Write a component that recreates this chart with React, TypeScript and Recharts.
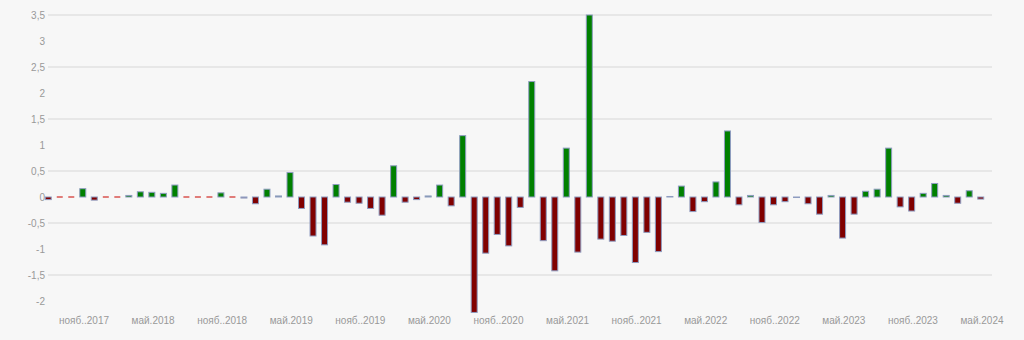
import { Bar, BarChart, CartesianGrid, XAxis, YAxis } from "recharts";

// monthly values, Aug 2017 .. May 2024
const START_MONTH = "авг.2017";
const VALUES = [
  -0.05, 0, 0, 0.16, -0.06, 0, 0, 0.03, 0.1, 0.09, 0.07, 0.23,
  0, 0, 0, 0.08, 0, -0.02, -0.13, 0.15, 0.02, 0.47, -0.22, -0.75,
  -0.92, 0.24, -0.1, -0.12, -0.22, -0.35, 0.6, -0.1, -0.05, 0.02, 0.23, -0.17,
  1.18, -2.22, -1.08, -0.72, -0.94, -0.2, 2.22, -0.84, -1.42, 0.94, -1.06, 3.5,
  -0.81, -0.85, -0.74, -1.26, -0.68, -1.05, 0.01, 0.21, -0.28, -0.09, 0.29, 1.27,
  -0.15, 0.03, -0.49, -0.15, -0.09, -0.01, -0.13, -0.33, 0.03, -0.79, -0.33, 0.11,
  0.15, 0.94, -0.19, -0.27, 0.07, 0.26, 0.03, -0.12, 0.12, -0.04,
];

// month index (from START_MONTH) and label for the x ticks
const TICK_MONTHS = [3, 9, 15, 21, 27, 33, 39, 45, 51, 57, 63, 69, 75, 81];
const TICK_LABELS = [
  "нояб..2017", "май.2018", "нояб..2018", "май.2019", "нояб..2019", "май.2020", "нояб..2020",
  "май.2021", "нояб..2021", "май.2022", "нояб..2022", "май.2023", "нояб..2023", "май.2024",
];
const Y_TICKS = [-2, -1.5, -1, -0.5, 0, 0.5, 1, 1.5, 2, 2.5, 3, 3.5];
const GRID_VALUES = [-1.5, -0.5, 0.5, 1.5, 2.5, 3.5];

const data = VALUES.map((v, i) => ({ m: i, v }));
const tickLabel = (m: number) => TICK_LABELS[TICK_MONTHS.indexOf(m)] ?? "";
const fmt = (v: number) => String(v).replace(".", ",");

function BarShape(props: any) {
  const { x, y, width, height, value } = props;
  const v = Array.isArray(value) ? value[1] : value;
  if (!v) {
    return <line x1={x} x2={x + width} y1={y} y2={y} stroke="#d9534f" strokeWidth={1.5} />;
  }
  const top = height < 0 ? y + height : y;
  return (
    <rect x={x} y={top} width={width} height={Math.abs(height)}
      fill={v > 0 ? "#008000" : "#800000"} stroke="#8e9cc0" strokeWidth={1} />
  );
}

export default function App() {
  return (
    <div style={{ position: "absolute", left: 0, top: 0, width: 1024, height: 340, background: "#f7f7f7" }}>
      <BarChart width={1024} height={340} data={data} margin={{ top: 15, right: 32, bottom: 0, left: 0 }}
        style={{ fontFamily: "'Liberation Sans', Arial, sans-serif" }}>
        <CartesianGrid vertical={false} horizontalValues={GRID_VALUES} stroke="#e2e2e2" strokeWidth={1.5} />
        <XAxis dataKey="m" type="number" domain={[0, 82]} ticks={TICK_MONTHS} interval={0}
          tickFormatter={tickLabel} axisLine={false} tickLine={false} tickSize={0} tickMargin={3}
          height={26} tick={{ fill: "#999", fontSize: 10, dx: 1.5 }} />
        <YAxis domain={[-2.25, 3.5]} ticks={Y_TICKS} interval={0} tickFormatter={fmt}
          axisLine={false} tickLine={false} tickSize={0} tickMargin={3} width={48}
          tick={{ fill: "#999", fontSize: 10 }} />
        <Bar dataKey="v" name={START_MONTH} barSize={6} shape={BarShape} isAnimationActive={false} />
      </BarChart>
    </div>
  );
}
